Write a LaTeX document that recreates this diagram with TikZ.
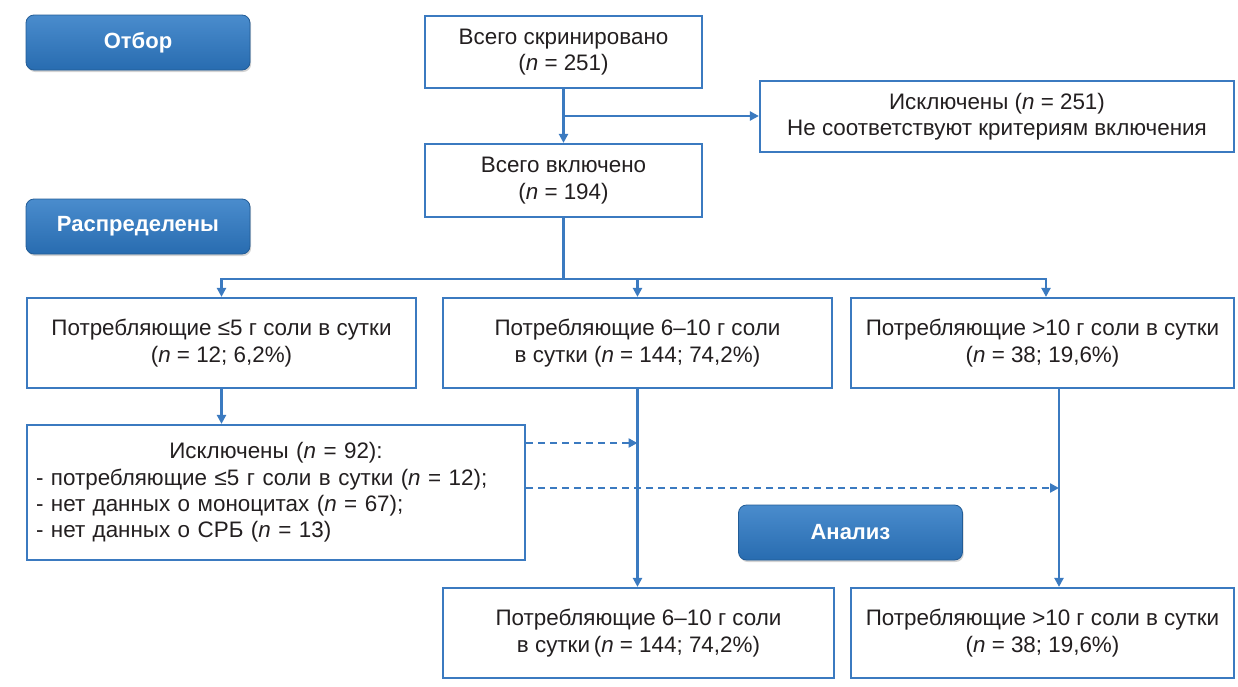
\documentclass[tikz,border=0pt]{standalone}
\usepackage{fontspec}
\setmainfont{Liberation Sans}
\usetikzlibrary{arrows.meta,positioning,shadows}
\definecolor{lineblue}{RGB}{59,122,192}
\definecolor{btntop}{RGB}{74,140,205}
\definecolor{btnbot}{RGB}{40,108,176}
\definecolor{txtgray}{RGB}{35,31,32}

\begin{document}
\begin{tikzpicture}[x=0.5pt,y=-0.5pt,
  box/.style={draw=lineblue,line width=1.1pt,fill=white,align=center,inner sep=2pt,
    text=txtgray,font=\fontsize{11.2}{13.2}\selectfont},
  btn/.style={rounded corners=4pt,top color=btntop,bottom color=btnbot,draw=btnbot!85!black,
    text=white,font=\fontsize{11}{13}\selectfont\bfseries,
    minimum width=112pt,minimum height=27.5pt,
    drop shadow={shadow xshift=0.6pt,shadow yshift=-1pt,opacity=0.35}},
  arr/.style={draw=lineblue,line width=1.2pt,-{Triangle[length=4.5pt,width=4.5pt]}},
  line/.style={draw=lineblue,line width=1.2pt}]

  \useasboundingbox (0,0) rectangle (1238,686);

  % Stage labels
  \node[btn] (otbor) at (138,42.5) {Отбор};
  \node[btn] (raspr) at (138,226.5) {Распределены};
  \node[btn] (analiz) at (850.5,532.5) {Анализ};

  % Screening
  \node[box,minimum width=138.5pt,minimum height=36pt] (screen) at (563.5,52)
    {Всего скринировано\\(\textit{n} = 251)};
  \node[box,minimum width=138.5pt,minimum height=36.5pt] (incl) at (563.5,180.5)
    {Всего включено\\(\textit{n} = 194)};
  \node[box,minimum width=237pt,minimum height=35.5pt] (excl1) at (997,116.5)
    {Исключены (\textit{n} = 251)\\Не соответствуют критериям включения};

  % Groups
  \node[box,minimum width=194.5pt,minimum height=45pt] (g1) at (221.5,343)
    {Потребляющие ≤5 г соли в сутки\\(\textit{n} = 12; 6,2\%)};
  \node[box,minimum width=194.5pt,minimum height=45pt] (g2) at (637.5,343)
    {Потребляющие 6–10 г соли\\в сутки (\textit{n} = 144; 74,2\%)};
  \node[box,minimum width=191.5pt,minimum height=45pt] (g3) at (1042.5,343)
    {Потребляющие >10 г соли в сутки\\(\textit{n} = 38; 19,6\%)};

  % Excluded from analysis
  \node[box,minimum width=249pt,minimum height=67.5pt,text width=240pt,align=left,
    inner sep=4.5pt] (excl2) at (276,492.5)
    {{\centering Исключены (\textit{n} = 92):\par}%
     - потребляющие ≤5 г соли в сутки (\textit{n} = 12);\\
     - нет данных о моноцитах (\textit{n} = 67);\\
     - нет данных о СРБ (\textit{n} = 13)};

  % Analysed
  \node[box,minimum width=195.5pt,minimum height=45pt] (a2) at (638.5,633)
    {Потребляющие 6–10 г соли\\в сутки\,(\textit{n} = 144; 74,2\%)};
  \node[box,minimum width=191.5pt,minimum height=45pt] (a3) at (1042.5,633)
    {Потребляющие >10 г соли в сутки\\(\textit{n} = 38; 19,6\%)};

  % Connectors
  \draw[arr] (screen) -- (incl);
  \coordinate (br1) at (563.5,116);
  \draw[arr] (br1) -- (br1 -| excl1.west);
  \coordinate (split) at (563.5,279);
  \draw[line] (incl) -- (split);
  \draw[arr] (split) -| (g1);
  \draw[arr] (split) -| (g2);
  \draw[arr] (split) -| ([xshift=1.75pt]g3.north);
  \draw[arr] (g1) -- (g1 |- excl2.north);
  \draw[arr] (g2.south) -- (g2.south |- a2.north);
  \coordinate (v3) at ([xshift=8.25pt]g3.south);
  \draw[arr] (v3) -- (v3 |- a3.north);

  % Dashed exclusions
  \coordinate (d1) at ([yshift=24.75pt]excl2.east);
  \coordinate (d2) at ([yshift=2.25pt]excl2.east);
  \draw[arr,dash pattern=on 3.5pt off 2.5pt] (d1) -- (d1 -| g2.south);
  \draw[arr,dash pattern=on 3.5pt off 2.5pt] (d2) -- (d2 -| v3);
\end{tikzpicture}
\end{document}
